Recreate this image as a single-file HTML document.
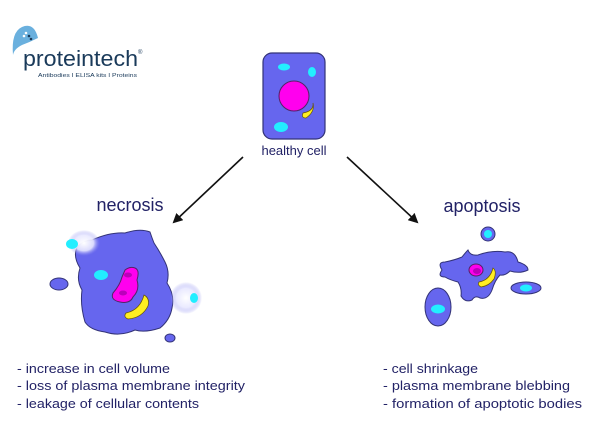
<!DOCTYPE html>
<html><head><meta charset="utf-8"><style>
html,body{margin:0;padding:0;background:#fff;}
svg{display:block;font-family:"Liberation Sans",sans-serif;}
</style></head><body>
<svg width="605" height="427" viewBox="0 0 605 427" xmlns="http://www.w3.org/2000/svg">
<defs>
<radialGradient id="blur" cx="50%" cy="50%" r="50%">
<stop offset="0" stop-color="#ffffff" stop-opacity="1"/>
<stop offset="0.6" stop-color="#e8e8ff" stop-opacity="0.9"/>
<stop offset="1" stop-color="#8888ee" stop-opacity="0"/>
</radialGradient>
<marker id="ah" markerWidth="10" markerHeight="10" refX="8" refY="5" orient="auto" markerUnits="userSpaceOnUse">
<path d="M0,0 L10,5 L0,10 Z" fill="#111"/>
</marker>
</defs>
<!-- logo -->
<path d="M22,27 Q34,22 38,38 Q30,42 22,45 Q14,49 13,55 Q11,32 22,27Z" fill="#6ab0de"/>
<circle cx="24" cy="36" r="1.3" fill="#fff"/><circle cx="26" cy="33" r="1.3" fill="#fff"/><circle cx="29" cy="36" r="1.3" fill="#1a3a5a"/><circle cx="31" cy="39" r="1.3" fill="#1a3a5a"/>
<text x="23" y="66" font-size="22" fill="#1a3a5a" textLength="115" lengthAdjust="spacingAndGlyphs">proteintech</text>
<text x="138" y="54" font-size="6" fill="#1a3a5a">®</text>
<text x="38" y="77" font-size="5.5" fill="#1a3a5a" textLength="99" lengthAdjust="spacingAndGlyphs">Antibodies  I  ELISA kits  I  Proteins</text>

<!-- healthy cell -->
<rect x="263" y="53" width="62" height="86" rx="9" fill="#6666ee" stroke="#333377" stroke-width="1.2"/>
<ellipse cx="284" cy="67" rx="6" ry="3.5" fill="#22eeff"/>
<ellipse cx="312" cy="72" rx="4" ry="5" fill="#22eeff"/>
<ellipse cx="281" cy="127" rx="7" ry="5" fill="#22eeff"/>
<circle cx="294" cy="96" r="15" fill="#ff00ee" stroke="#552266" stroke-width="1"/>
<path d="M303,113 Q314,111 313,103 Q315,112 306,118 Q301,118 303,113Z" fill="#ffee22" stroke="#665500" stroke-width="0.7"/>
<text x="294" y="155" font-size="13" fill="#222266" text-anchor="middle">healthy cell</text>

<!-- arrows -->
<line x1="243" y1="157" x2="174" y2="222" stroke="#111" stroke-width="1.6" marker-end="url(#ah)"/>
<line x1="347" y1="157" x2="417" y2="222" stroke="#111" stroke-width="1.6" marker-end="url(#ah)"/>

<text x="130" y="211" font-size="18" fill="#222266" text-anchor="middle">necrosis</text>
<text x="482" y="212" font-size="18" fill="#222266" text-anchor="middle">apoptosis</text>

<!-- necrosis cell -->
<path d="M92,240 Q110,232 125,233 Q140,228 150,232 Q152,238 154,243 Q160,252 165,262 Q170,272 167,283 Q175,295 172,308 Q170,320 160,328 Q145,333 135,330 Q120,337 105,332 Q90,330 85,322 Q80,305 82,290 Q76,280 80,268 Q72,255 78,246 Q85,240 92,240Z" fill="#6666ee" stroke="#333377" stroke-width="1"/>
<ellipse cx="84" cy="243" rx="16" ry="13" fill="url(#blur)"/>
<ellipse cx="186" cy="298" rx="16" ry="16" fill="url(#blur)"/>
<ellipse cx="72" cy="244" rx="6" ry="5" fill="#22eeff"/>
<ellipse cx="194" cy="298" rx="4" ry="5" fill="#22eeff"/>
<ellipse cx="101" cy="275" rx="7" ry="5" fill="#22eeff"/>
<ellipse cx="59" cy="284" rx="9" ry="6" fill="#6666ee" stroke="#333377" stroke-width="1"/>
<ellipse cx="170" cy="338" rx="5" ry="4" fill="#6666ee" stroke="#333377" stroke-width="1"/>
<path d="M125,270 Q130,266 135,268 Q140,270 137,280 Q140,290 133,297 Q130,304 120,302 Q110,300 113,293 Q120,285 122,277Z" fill="#ff00ee" stroke="#552266" stroke-width="1"/>
<ellipse cx="128" cy="275" rx="4" ry="2.5" fill="#bb00bb"/>
<ellipse cx="123" cy="293" rx="4" ry="2.5" fill="#bb00bb"/>
<path d="M126,313 Q140,310 144,295 Q150,298 148,306 Q142,318 128,319 Q123,317 126,313Z" fill="#ffee22" stroke="#665500" stroke-width="0.7"/>

<!-- apoptosis -->
<circle cx="488" cy="234" r="7" fill="#6666ee" stroke="#333377" stroke-width="1"/>
<circle cx="488" cy="234" r="4" fill="#22eeff"/>
<path d="M468,250 Q470,256 478,255 Q492,250 505,252 Q515,250 518,262 Q528,265 528,270 Q520,274 510,271 Q505,276 500,275 Q495,280 492,290 Q488,300 480,298 Q475,295 472,300 Q465,303 461,296 Q462,288 458,282 Q450,280 445,277 Q437,277 442,270 Q437,262 445,262 Q455,260 462,257 Q466,252 468,250Z" fill="#6666ee" stroke="#333377" stroke-width="1"/>
<ellipse cx="476" cy="270" rx="7" ry="6" fill="#ff00ee" stroke="#552266" stroke-width="1"/>
<ellipse cx="477" cy="271" rx="4" ry="3" fill="#bb00bb"/>
<path d="M479,282 Q490,280 493,268 Q497,271 494,279 Q489,286 481,287 Q477,285 479,282Z" fill="#ffee22" stroke="#665500" stroke-width="0.7"/>
<ellipse cx="438" cy="307" rx="13" ry="19" fill="#6666ee" stroke="#333377" stroke-width="1"/>
<ellipse cx="438" cy="309" rx="7" ry="4.5" fill="#22eeff"/>
<ellipse cx="526" cy="288" rx="15" ry="6" fill="#6666ee" stroke="#333377" stroke-width="1"/>
<ellipse cx="526" cy="288" rx="6" ry="3.5" fill="#22eeff"/>

<!-- lists -->
<g font-size="13" fill="#222266">
<text x="17" y="373" textLength="153" lengthAdjust="spacingAndGlyphs">- increase in cell volume</text>
<text x="17" y="390" textLength="228" lengthAdjust="spacingAndGlyphs">- loss of plasma membrane integrity</text>
<text x="17" y="408" textLength="182" lengthAdjust="spacingAndGlyphs">- leakage of cellular contents</text>
<text x="383" y="373" textLength="95" lengthAdjust="spacingAndGlyphs">- cell shrinkage</text>
<text x="383" y="390" textLength="187" lengthAdjust="spacingAndGlyphs">- plasma membrane blebbing</text>
<text x="383" y="408" textLength="199" lengthAdjust="spacingAndGlyphs">- formation of apoptotic bodies</text>
</g>
</svg>
</body></html>
